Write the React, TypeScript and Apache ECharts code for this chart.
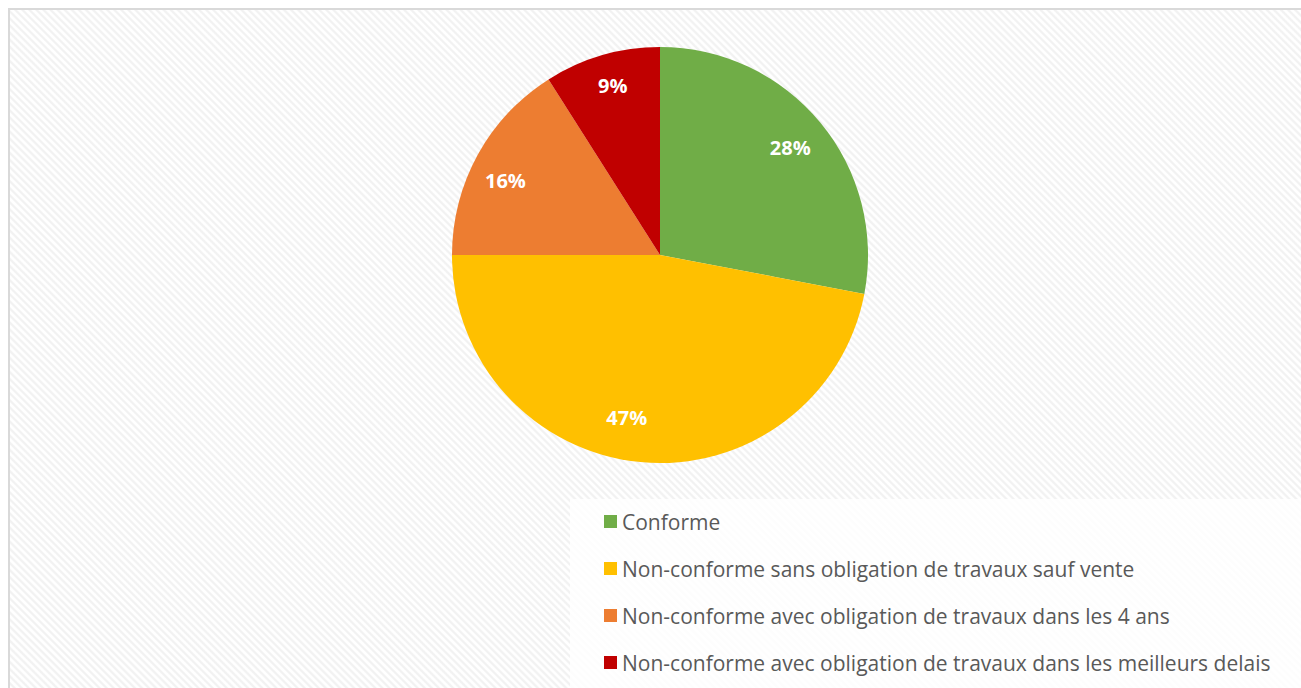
import React, { useEffect, useRef } from "react";
import * as echarts from "echarts";

const categories = [
  "Conforme",
  "Non-conforme sans obligation de travaux sauf vente",
  "Non-conforme avec obligation de travaux dans les 4 ans",
  "Non-conforme avec obligation de travaux dans les meilleurs delais",
];
const values = [28, 47, 16, 9];
const colors = ["#70AD47", "#FFC000", "#ED7D31", "#C00000"];
const labelOffsets = [
  [-3, 3],
  [-17, -10],
  [-3, 9],
  [1, -3],
];

export default function App() {
  const ref = useRef<HTMLDivElement>(null);
  useEffect(() => {
    if (!ref.current) return;
    const chart = echarts.init(ref.current, null, { renderer: "svg" });
    const data = categories.map((name, i) => ({
      name,
      value: values[i],
      itemStyle: { color: colors[i] },
    }));
    chart.setOption({
      animation: false,
      graphic: [
        {
          type: "rect",
          left: 560,
          top: 489,
          shape: { width: 741, height: 199 },
          style: { fill: "rgba(255,255,255,0.8)" },
          z: -10,
          silent: true,
        },
      ],
      legend: {
        orient: "vertical",
        left: 594,
        top: 501,
        padding: 0,
        itemWidth: 13,
        itemHeight: 13,
        itemGap: 26,
        icon: "rect",
        data: categories,
        textStyle: {
          fontFamily: "Open Sans",
          fontSize: 21,
          color: "#595959",
          lineHeight: 21,
        },
        selectedMode: false,
      },
      series: [
        {
          type: "pie",
          center: [650, 245],
          radius: [0, 208],
          startAngle: 90,
          clockwise: true,
          data,
          label: { show: false },
          labelLine: { show: false },
          itemStyle: { borderWidth: 0 },
          silent: true,
        },
        {
          type: "pie",
          center: [650, 245],
          radius: [132, 208],
          startAngle: 90,
          clockwise: true,
          data: categories.map((name, i) => ({
            name,
            value: values[i],
            label: { offset: labelOffsets[i] },
          })),
          itemStyle: { color: "rgba(0,0,0,0)", borderWidth: 0 },
          label: {
            show: true,
            position: "inside",
            formatter: "{d}%",
            color: "#ffffff",
            fontFamily: "Open Sans",
            fontWeight: "bold",
            fontSize: 20,
          },
          labelLine: { show: false },
          silent: true,
          legendHoverLink: false,
        },
      ],
    });
    return () => chart.dispose();
  }, []);
  return (
    <>
      <div
        style={{
          position: "fixed",
          left: 8,
          top: 8,
          width: 1293,
          height: 680,
          boxSizing: "border-box",
          borderTop: "2px solid #d9d9d9",
          borderLeft: "2px solid #d9d9d9",
          background:
            "repeating-linear-gradient(45deg, #ffffff 0px, #ffffff 1.5px, #f2f2f2 2.7px, #f2f2f2 3.8px, #ffffff 5px)",
        }}
      />
      <div
        ref={ref}
        style={{ position: "fixed", left: 10, top: 10, width: 1291, height: 678 }}
      />
    </>
  );
}
